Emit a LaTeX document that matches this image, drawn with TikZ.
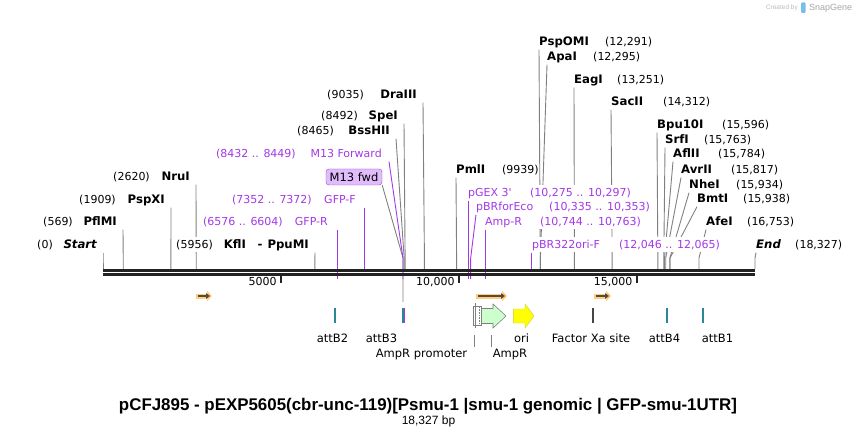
\documentclass[tikz,border=0pt]{standalone}
\usepackage{fontspec}
\setmainfont{DejaVu Sans}
\newfontfamily\titlefont{Liberation Sans}
\usetikzlibrary{arrows.meta, backgrounds}

\definecolor{cutgray}{RGB}{128,128,128}
\definecolor{primer}{RGB}{163,57,230}
\definecolor{primerfill}{RGB}{224,188,250}
\definecolor{attteal}{RGB}{44,133,153}
\definecolor{xagray}{RGB}{70,70,70}
\definecolor{ampgreen}{RGB}{204,255,204}
\definecolor{oriyellow}{RGB}{255,255,0}
\definecolor{orfglow}{RGB}{255,204,128}
\definecolor{orfdark}{RGB}{85,75,60}
\definecolor{bbblack}{RGB}{34,34,34}
\definecolor{logoblue}{RGB}{120,190,235}

% enzyme name in bold, a little larger than the numbers
\newcommand\ename[1]{{\fontsize{11.7}{13}\selectfont\bfseries #1}}

\begin{document}
\begin{tikzpicture}
  [
    x=1pt, y=-1pt,
    lab/.style = {inner sep=0pt, fill=white, text height=12pt, text depth=3.5pt, font=\fontsize{11}{13}\selectfont},
    enzL/.style = {lab, anchor=base east},
    enzR/.style = {lab, anchor=base west},
    prmL/.style = {enzL, text=primer},
    prmR/.style = {enzR, text=primer},
    feat/.style = {inner sep=0pt, anchor=base, font=\fontsize{11.5}{13}\selectfont},
    cutline/.style = {draw=cutgray, line width=0.9pt, to path={-- (\tikztotarget |- elbow) -- (\tikztotarget)}},
    primerline/.style = {cutline, draw=primer},
    backbone/.style = {draw=bbblack, line width=2.6pt},
    scaletick/.style = {draw=bbblack, line width=2pt},
    orf/.style = {draw=orfglow, line width=5pt, -{Triangle[length=5pt,width=10pt]}},
    orfin/.style = {draw=orfdark, line width=1.6pt, -{Triangle[length=4pt,width=5.5pt]}},
    attbar/.style = {fill=attteal},
    featbox/.style = {draw=cutgray, line width=0.6pt},
  ]
  \useasboundingbox (0,0) rectangle (858,435);

  % sites on the backbone, positions in kb (652pt for 18.327 kb)
  \coordinate (elbow) at (0,258);
  \foreach \n/\kb in {Start/0, PflMI/0.569, PspXI/1.909, NruI/2.620, KflI/5.956, BssHII/8.465,
                      SpeI/8.492, DraIII/9.035, PmlI/9.939, PspOMI/12.291, ApaI/12.295, EagI/13.251,
                      SacII/14.312, Bpu10I/15.596, SrfI/15.763, AflII/15.784, AvrII/15.817,
                      NheI/15.934, BmtI/15.938, AfeI/16.753, End/18.327, GFPF/7.352, oriF/12.046}
    \coordinate (s\n) at ({103+\kb*35.5759},269);
  \foreach \n/\kb in {GFPR/6.576, M13F/8.432, pGEX/10.275, pBRforEco/10.335, AmpRp/10.744}
    \coordinate (s\n) at ({103+\kb*35.5759},279);
  \coordinate (m13leg) at (403,302);

  % backbone and scale
  \draw[backbone] (103,270.4) -- (755,270.4);
  \draw[backbone] (103,274.8) -- (755,274.8);
  \foreach \kb/\txt in {5/5000, 10/{10,000}, 15/{15,000}} {
    \draw[scaletick] ({103+\kb*35.5759},275) -- ++(0,8);
    \node[feat, anchor=base east, font=\fontsize{11}{13}\selectfont] (t\kb) at ({99+\kb*35.5759},286) {\txt};
  }

  % enzymes, left of their line
  \node[enzL] (Start) at (97,249) {(0)\hspace{10pt}\makebox[34pt][r]{\ename{\itshape Start}}};
  \node[enzL] (PflMI) at (117,226) {(569)\hspace{10pt}\makebox[34pt][r]{\ename{PflMI}}};
  \node[enzL] (PspXI) at (165,204) {(1909)\hspace{9pt}\makebox[40pt][r]{\ename{PspXI}}};
  \node[enzL] (NruI) at (190,181) {(2620)\hspace{10pt}\makebox[30pt][r]{\ename{NruI}}};
  \node[enzL] (KflI) at (309,249) {(5956)\hspace{11pt}\makebox[85pt][l]{\ename{KflI}\hfill\ename{-}\hspace{5pt}\ename{PpuMI}}};
  \node[enzL] (BssHII) at (390,135) {(8465)\hspace{10pt}\makebox[46pt][r]{\ename{BssHII}}};
  \node[enzL] (SpeI) at (398,120) {(8492)\hspace{9pt}\makebox[31pt][r]{\ename{SpeI}}};
  \node[enzL] (DraIII) at (417,99) {(9035)\hspace{9pt}\makebox[44pt][r]{\ename{DraIII}}};

  % enzymes, right of their line
  \node[enzR] (PmlI) at (456,174) {\makebox[46pt][l]{\ename{PmlI}}(9939)};
  \node[enzR] (PspOMI) at (539,46) {\makebox[66pt][l]{\ename{PspOMI}}(12,291)};
  \node[enzR] (ApaI) at (547,61) {\makebox[46pt][l]{\ename{ApaI}}(12,295)};
  \node[enzR] (EagI) at (574,84) {\makebox[43pt][l]{\ename{EagI}}(13,251)};
  \node[enzR] (SacII) at (611,106) {\makebox[52pt][l]{\ename{SacII}}(14,312)};
  \node[enzR] (Bpu10I) at (657,129) {\makebox[65pt][l]{\ename{Bpu10I}}(15,596)};
  \node[enzR] (SrfI) at (665,144) {\makebox[39pt][l]{\ename{SrfI}}(15,763)};
  \node[enzR] (AflII) at (673,158) {\makebox[45pt][l]{\ename{AflII}}(15,784)};
  \node[enzR] (AvrII) at (681,174) {\makebox[50pt][l]{\ename{AvrII}}(15,817)};
  \node[enzR] (NheI) at (689,189) {\makebox[47pt][l]{\ename{NheI}}(15,934)};
  \node[enzR] (BmtI) at (697,203) {\makebox[46pt][l]{\ename{BmtI}}(15,938)};
  \node[enzR] (AfeI) at (706,226) {\makebox[41pt][l]{\ename{AfeI}}(16,753)};
  \node[enzR] (End) at (756,249) {\makebox[39pt][l]{\ename{\itshape End}}(18,327)};

  % primers
  \node[prmL] (GFPR) at (328,226) {(6576 .. 6604)\hspace{10pt}\makebox[35pt][r]{GFP-R}};
  \node[prmL] (GFPF) at (356,204) {(7352 .. 7372)\hspace{10pt}\makebox[34pt][r]{GFP-F}};
  \node[prmL] (M13F) at (382,158) {(8432 .. 8449)\hspace{10pt}\makebox[76pt][r]{M13 Forward}};
  \node[prmR] (pGEX) at (468,197) {\makebox[62pt][l]{pGEX 3\textquotesingle}(10,275 .. 10,297)};
  \node[prmR] (pBRforEco) at (476,211) {\makebox[73pt][l]{pBRforEco}(10,335 .. 10,353)};
  \node[prmR] (AmpRp) at (485,226) {\makebox[55pt][l]{Amp-R}(10,744 .. 10,763)};
  \node[prmR] (oriF) at (532,249) {\makebox[87pt][l]{pBR322ori-F}(12,046 .. 12,065)};
  \node[draw=primer, fill=primerfill, rounded corners=3pt, minimum width=56pt, minimum height=16pt,
        inner sep=0pt, font=\fontsize{11.5}{13}\selectfont] (M13box) at (354,177) {M13 fwd};

  \begin{pgfonlayer}{background}
    % cut lines
    \draw[cutline] ([xshift=6pt]Start.south east) to (sStart);
    \draw[cutline] ([xshift=6pt]PflMI.south east) to (sPflMI);
    \draw[cutline] ([xshift=6pt]PspXI.south east) to (sPspXI);
    \draw[cutline] ([xshift=6pt]NruI.south east) to (sNruI);
    \draw[cutline] ([xshift=6pt]KflI.south east) to (sKflI);
    \draw[cutline] ([xshift=6pt]BssHII.south east) to (sBssHII);
    \draw[cutline] ([xshift=6pt]SpeI.south east) to (sSpeI);
    \draw[cutline] ([xshift=6pt]DraIII.south east) to (sDraIII);
    \foreach \n in {PmlI, PspOMI, ApaI, EagI, SacII, Bpu10I, SrfI, AflII, AvrII, NheI, BmtI, AfeI, End}
      \draw[cutline] (\n.south west) to (s\n);
    \draw[cutline] (M13box.south east) to (m13leg);
    % primer lines
    \draw[primerline] (sGFPR |- GFPR.south) to (sGFPR);
    \draw[primerline] (sGFPF |- GFPF.south) to (sGFPF);
    \draw[primerline] ([xshift=7pt]M13F.south east) to (sM13F);
    \draw[primerline] (spGEX |- pGEX.south) to (spGEX);
    \draw[primerline] (pBRforEco.south west) to (spBRforEco);
    \draw[primerline] (sAmpRp |- AmpRp.south) to (sAmpRp);
    \draw[primerline] (soriF |- oriF.south) to (soriF);
  \end{pgfonlayer}

  % open reading frames
  \draw[orf] (196,296) -- (212,296);
  \draw[orfin] (198,296) -- (210,296);
  \draw[orf] (476,296) -- (507,296);
  \draw[orfin] (478,296) -- (505,296);
  \draw[orf] (594,296) -- (611,296);
  \draw[orfin] (596,296) -- (609,296);

  % features
  \fill[attbar] (334,308) rectangle (336.3,323);
  \fill[attbar] (401.8,308) rectangle (403.6,323);
  \fill[primer] (403.6,308) rectangle (404.6,323);
  \fill[xagray] (592,308) rectangle (594,323);
  \fill[attbar] (666,308) rectangle (668.3,323);
  \fill[attbar] (702,308) rectangle (704.3,323);
  \draw[featbox, fill=ampgreen] (481,308.5) -- (493,308.5) -- (493,304) -- (506,316) -- (493,328)
    -- (493,323.5) -- (481,323.5) -- cycle;
  \draw[featbox, fill=white] (473.5,306) rectangle (481,325.5);
  \draw[featbox, densely dotted] (479.3,307) -- (479.3,324.5);
  \draw[featbox] (475.3,303) -- (475.3,328);
  \draw[draw=yellow!80!black, line width=0.4pt, fill=oriyellow] (513.3,309) -- (525,309) -- (525,304)
    -- (534,316) -- (525,328) -- (525,323) -- (513.3,323) -- cycle;
  \draw[featbox] (474.7,335) -- (474.7,347);
  \draw[featbox] (491.5,335) -- (491.5,347);

  \node[feat] (attB2) at (332.5,342) {attB2};
  \node[feat] (attB3) at (381.5,342) {attB3};
  \node[feat] (ori) at (521.5,342) {ori};
  \node[feat] (FXa) at (591,342) {Factor Xa site};
  \node[feat] (attB4) at (664.5,342) {attB4};
  \node[feat] (attB1) at (717.5,342) {attB1};
  \node[feat] (AmpRprom) at (421.5,357.5) {AmpR promoter};
  \node[feat] (AmpR) at (510,357.5) {AmpR};

  % title
  \node[anchor=base, inner sep=0pt, font=\titlefont\bfseries\fontsize{16.9}{20}\selectfont] (title) at (428,410)
    {pCFJ895 - pEXP5605(cbr-unc-119)[Psmu-1 |smu-1 genomic | GFP-smu-1UTR]};
  \node[anchor=base, inner sep=0pt, font=\titlefont\fontsize{12}{14}\selectfont] (length) at (428.5,424) {18,327 bp};

  % credit
  \node[anchor=base east, inner sep=0pt, text=gray!55, font=\titlefont\fontsize{6.5}{8}\selectfont] (credit) at (798,10) {Created by};
  \fill[logoblue, rounded corners=1pt] (801,2.5) rectangle (805.5,13);
  \node[anchor=base west, inner sep=0pt, text=gray!70, font=\titlefont\fontsize{9}{10}\selectfont] (brand) at (809,10.5) {SnapGene};
\end{tikzpicture}
\end{document}
